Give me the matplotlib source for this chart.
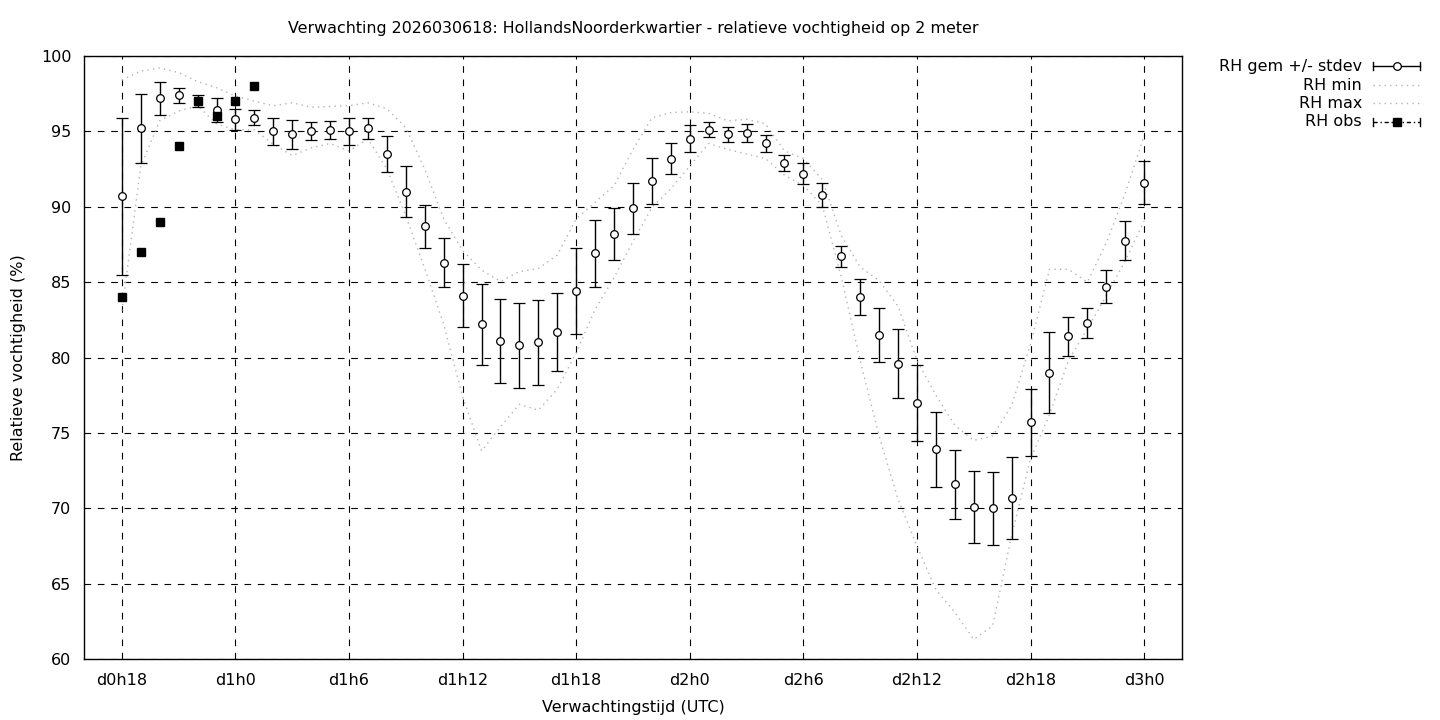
import numpy as np
import matplotlib
matplotlib.use("Agg")
import matplotlib.pyplot as plt
from matplotlib.lines import Line2D

plt.rcParams['font.family'] = ['DejaVu Sans']

# forecast hours (x values)
hours = list(range(18, 73))

rh_mean = [90.7, 95.2, 97.2, 97.4, 97.0, 96.4, 95.8, 95.9, 95.0, 94.8,
           95.0, 95.1, 95.0, 95.2, 93.5, 91.0, 88.7, 86.3, 84.1, 82.2,
           81.1, 80.8, 81.0, 81.7, 84.4, 86.9, 88.2, 89.9, 91.7, 93.2,
           94.5, 95.1, 94.8, 94.9, 94.2, 92.9, 92.2, 90.8, 86.7, 84.0,
           81.5, 79.6, 77.0, 73.9, 71.6, 70.1, 70.0, 70.7, 75.7, 79.0,
           81.4, 82.3, 84.7, 87.75, 91.6]

rh_std = [5.2, 2.28, 1.1, 0.49, 0.39, 0.8, 0.7, 0.5, 0.9, 0.98,
          0.6, 0.58, 0.9, 0.69, 1.19, 1.7, 1.42, 1.6, 2.08, 2.69,
          2.77, 2.81, 2.82, 2.58, 2.87, 2.23, 1.72, 1.69, 1.52, 1.03,
          0.9, 0.49, 0.5, 0.6, 0.59, 0.53, 0.7, 0.79, 0.69, 1.19,
          1.78, 2.29, 2.51, 2.49, 2.29, 2.39, 2.42, 2.72, 2.22, 2.69,
          1.3, 0.99, 1.09, 1.29, 1.43]

rh_max = [98.4, 99.0, 99.2, 98.9, 98.3, 97.9, 97.35, 97.0, 96.7, 96.9,
          96.6, 96.65, 96.7, 96.9, 96.5, 95.25, 92.5, 89.2, 87.1, 85.8,
          85.05, 85.7, 85.9, 86.8, 89.2, 90.3, 91.4, 93.8, 95.9, 96.25,
          96.3, 96.2, 95.7, 95.8, 95.5, 93.7, 93.2, 91.8, 88.1, 86.0,
          85.1, 83.4, 79.8, 77.5, 75.5, 74.5, 74.8, 76.8, 80.9, 85.85,
          85.85, 85.0, 87.6, 90.9, 94.7]

rh_min = [83.1, 92.7, 95.7, 96.35, 96.7, 95.5, 95.1, 95.1, 94.15, 93.4,
          93.9, 94.2, 93.7, 94.5, 92.5, 89.4, 85.9, 82.2, 77.4, 73.8,
          75.4, 76.9, 76.5, 77.9, 80.3, 83.2, 85.3, 87.7, 89.95, 91.2,
          92.7, 94.2, 93.8, 93.5, 93.2, 92.1, 91.4, 90.1, 85.35, 79.8,
          74.8, 70.6, 67.5, 64.6, 63.1, 61.3, 62.2, 68.2, 73.3, 76.2,
          79.8, 81.9, 84.1, 86.4, 89.05]

obs_hours = [18, 19, 20, 21, 22, 23, 24, 25]
rh_obs = [84, 87, 89, 94, 97, 96, 97, 98]

tick_pos = [18, 24, 30, 36, 42, 48, 54, 60, 66, 72]
tick_labels = ['d0h18', 'd1h0', 'd1h6', 'd1h12', 'd1h18', 'd2h0',
               'd2h6', 'd2h12', 'd2h18', 'd3h0']
y_ticks = [60, 65, 70, 75, 80, 85, 90, 95, 100]

title = ("Verwachting 2026030618: HollandsNoorderkwartier - "
         "relatieve vochtigheid op 2 meter")

fig = plt.figure(figsize=(14.4, 7.2), dpi=100)
ax = fig.add_axes([84/1440, 1-659/720, (1182-84)/1440, (659-56)/720])

ax.set_xlim(16, 74)
ax.set_ylim(60, 100)
ax.set_xticks(tick_pos)
ax.set_xticklabels(tick_labels)
ax.set_yticks(y_ticks)
ax.tick_params(axis='x', length=0, labelsize=11.5, pad=10)
ax.tick_params(axis='y', length=0, labelsize=11.5, pad=9)

for s in ax.spines.values():
    s.set_linewidth(1.0)
    s.set_color('black')

grid_ls = (0, (6, 6))
ax.grid(True, color='black', linestyle=grid_ls, linewidth=0.8)
ax.set_axisbelow(True)

dot_style = dict(color='#b4b4b4', linestyle=(0, (1, 3)), linewidth=1.0)
ax.plot(hours, rh_min, **dot_style, zorder=2)
ax.plot(hours, rh_max, **dot_style, zorder=2)

ax.errorbar(hours, rh_mean, yerr=rh_std, fmt='o', color='black',
            ecolor='black', elinewidth=1.0, capsize=4, capthick=1.0,
            markersize=5.5, markerfacecolor='white', markeredgecolor='black',
            markeredgewidth=0.9, zorder=3)

ax.plot(obs_hours, rh_obs, linestyle='none', marker='s', markersize=6,
        color='black', zorder=4)

fig.text(633/1440, 1-29/720, title, ha='center', va='center', fontsize=11.4)
ax.set_xlabel('Verwachtingstijd (UTC)', fontsize=11.5, labelpad=9)
ax.set_ylabel('Relatieve vochtigheid (%)', fontsize=11.5, labelpad=11)

# manual legend (gnuplot style)
labels = ['RH gem +/- stdev', 'RH min', 'RH max', 'RH obs']
rows_y = [66, 85, 103, 122]
x0, x1 = 1373/1440, 1420/1440
xm = (x0 + x1) / 2
for lab, yp in zip(labels, rows_y):
    yf = 1 - yp/720
    fig.text(1362/1440, yf, lab, ha='right', va='center', fontsize=11.5)
    cap = 4/720
    if lab.startswith('RH gem'):
        fig.add_artist(Line2D([x0, x1], [yf, yf], color='black', lw=1.0))
        for xc in (x0, x1):
            fig.add_artist(Line2D([xc, xc], [yf-cap, yf+cap], color='black', lw=1.0))
        fig.add_artist(Line2D([xm], [yf], marker='o', markersize=5.5,
                              markerfacecolor='white', markeredgecolor='black',
                              markeredgewidth=0.9, linestyle='none'))
    elif lab == 'RH obs':
        fig.add_artist(Line2D([x0, x1], [yf, yf], color='black', lw=1.0,
                              linestyle=(0, (3, 2, 1, 2))))
        for xc in (x0, x1):
            fig.add_artist(Line2D([xc, xc], [yf-cap, yf+cap], color='black', lw=1.0))
        fig.add_artist(Line2D([xm], [yf], marker='s', markersize=6,
                              color='black', linestyle='none'))
    else:
        fig.add_artist(Line2D([x0, x1], [yf, yf], **dot_style))

fig.savefig('out.png', dpi=100)
